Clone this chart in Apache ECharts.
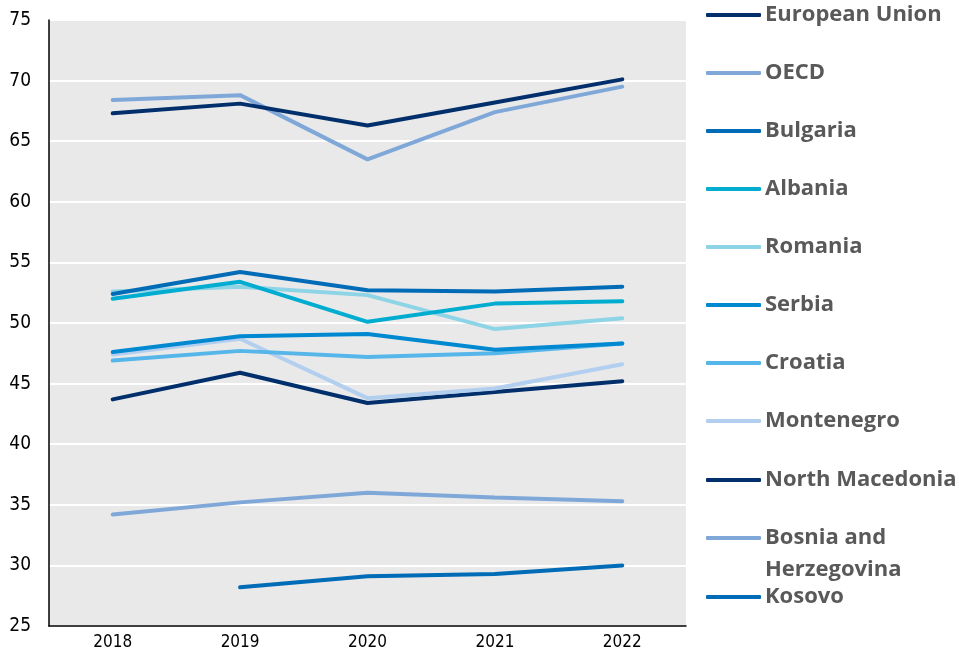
<!DOCTYPE html>
<html><head><meta charset="utf-8">
<script src="https://cdn.jsdelivr.net/npm/echarts@6/dist/echarts.min.js"></script>
<style>html,body{margin:0;padding:0;background:#fff}#c{width:959px;height:655px}</style>
</head><body><div id="c"></div>
<script>
const years = ['2018','2019','2020','2021','2022'];
const yTicks = [25,30,35,40,45,50,55,60,65,70,75];
const names = ['European Union','OECD','Bulgaria','Albania','Romania','Serbia','Croatia','Montenegro','North Macedonia','Bosnia and Herzegovina','Kosovo'];
const colors = ['#002f6c','#7fa8d9','#006bb6','#00acd0','#8cd4e6','#0088d1','#56b6e9','#b2cff0','#002f6c','#7fa8d9','#006bb6'];
const euData = [67.3,68.1,66.3,68.2,70.1];
const oecdData = [68.4,68.8,63.5,67.4,69.5];
const bulgariaData = [52.4,54.2,52.7,52.6,53.0];
const albaniaData = [52.0,53.4,50.1,51.6,51.8];
const romaniaData = [52.6,53.0,52.3,49.5,50.4];
const serbiaData = [47.6,48.9,49.1,47.8,48.3];
const croatiaData = [46.9,47.7,47.2,47.5,48.3];
const montenegroData = [47.4,48.7,43.8,44.6,46.6];
const northMacedoniaData = [43.7,45.9,43.4,44.3,45.2];
const bosniaData = [34.2,35.2,36.0,35.6,35.3];
const kosovoData = [null,28.2,29.1,29.3,30.0];
const allData = [euData,oecdData,bulgariaData,albaniaData,romaniaData,serbiaData,croatiaData,montenegroData,northMacedoniaData,bosniaData,kosovoData];

const chart = echarts.init(document.getElementById('c'), null, {renderer:'canvas'});
const legendTops = [14,72,130,188,246,304,362,420,479,537,596];
const legendFont = "'Open Sans', Lato, sans-serif";
const legends = names.map((n,i)=>({
  orient:'vertical', left:701, top:legendTops[i]-15,
  data:[n], icon:'roundRect', itemWidth:55, itemHeight:4, itemGap:0,
  selectedMode:false,
  formatter: nm => nm === 'Bosnia and Herzegovina' ? 'Bosnia and' : nm,
  textStyle:{color:'#595959', fontSize:22, fontWeight:'bold', fontFamily:legendFont, padding:[0,0,0,-1]}
}));
const option = {
  animation:false,
  backgroundColor:'#fff',
  grid:{left:49, right:273, top:20, bottom:29, show:true, backgroundColor:'#e9e9e9', borderWidth:0},
  legend: legends,
  graphic:[{type:'text', left:765, top:559, style:{text:'Herzegovina', fill:'#595959', font:"bold 22px " + legendFont}}],
  xAxis:{type:'category', data:years, boundaryGap:true,
    axisLine:{show:true, lineStyle:{color:'#000', width:1.5}}, axisTick:{show:false},
    axisLabel:{color:'#000', fontSize:17, margin:8, fontFamily:"'Liberation Sans Narrow','DejaVu Sans Condensed',sans-serif"},
    splitLine:{show:false}},
  yAxis:{type:'value', min:yTicks[0], max:yTicks[yTicks.length-1], interval:5,
    axisLine:{show:true, lineStyle:{color:'#000', width:1.5}}, axisTick:{show:false},
    axisLabel:{color:'#000', fontSize:19, margin:18, fontFamily:"'Liberation Sans Narrow','DejaVu Sans Condensed',sans-serif"},
    splitLine:{show:true, lineStyle:{color:'#fff', width:2}}},
  series: names.map((n,i)=>({
    name:n, type:'line', data:allData[i], showSymbol:false, symbol:'none',
    color:colors[i],
    lineStyle:{width:4, color:colors[i], cap:'round'},
    itemStyle:{color:colors[i]}, z: 20 - i
  }))
};
chart.setOption(option);
</script></body></html>
